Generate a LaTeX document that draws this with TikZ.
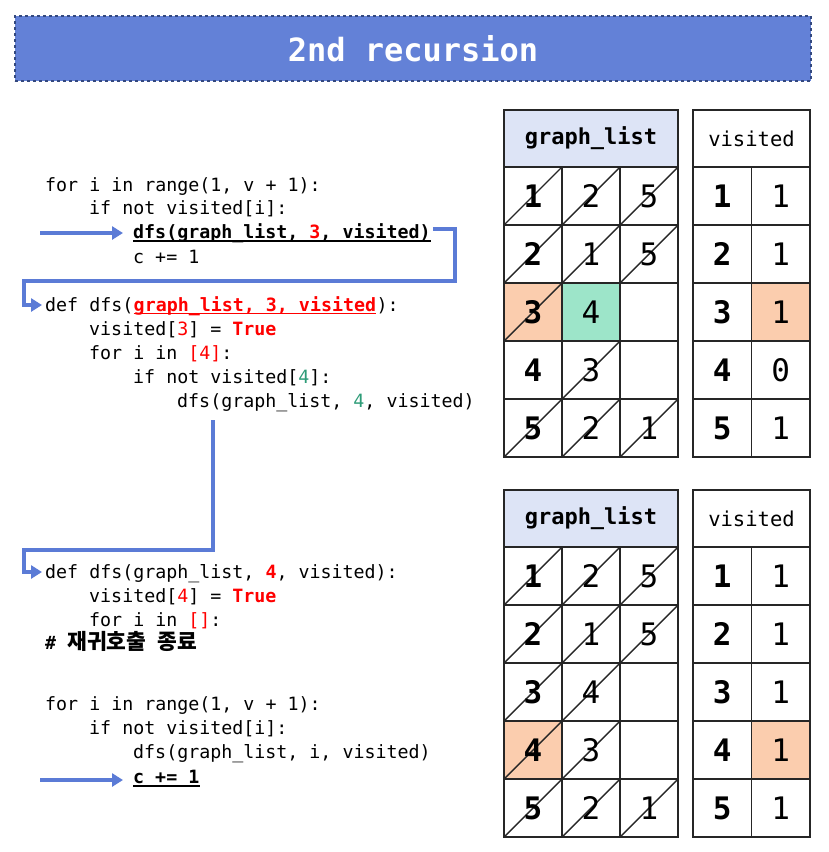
\documentclass[tikz,border=0pt]{standalone}
\usepackage{fontspec}
\usetikzlibrary{arrows.meta,calc}
\newfontfamily\mono{DejaVu Sans Mono}
\newfontfamily\kr{Noto Sans CJK KR}
\definecolor{titleblue}{HTML}{6381D7}
\definecolor{titleborder}{HTML}{34497F}
\definecolor{arrowblue}{HTML}{5B7BD6}
\definecolor{hdr}{HTML}{DDE4F6}
\definecolor{org}{HTML}{FBCDAE}
\definecolor{grn}{HTML}{9DE5C9}
\definecolor{codegreen}{HTML}{2E9C78}
\definecolor{codered}{HTML}{FF0000}
\begin{document}
\begin{tikzpicture}[x=1pt,y=-1pt,
  code/.style={anchor=base west, inner sep=0, font=\mono\fontsize{18.3}{22}\selectfont},
  arrowline/.style={draw=arrowblue, line width=3.3pt, -{Triangle[length=11pt,width=13pt]}},
  uline/.style={line width=1.6pt},
  cell/.style={draw=black!85, line width=1.4pt, minimum width=58pt, minimum height=58pt, inner sep=0, font=\mono\fontsize{31}{31}\selectfont},
  vcell/.style={cell, minimum width=58.5pt},
  bcell/.style={cell, font=\mono\bfseries\fontsize{31}{31}\selectfont},
  bvcell/.style={vcell, font=\mono\bfseries\fontsize{31}{31}\selectfont},
  sl/.style={path picture={\draw[line width=1.4pt] (path picture bounding box.south west) -- (path picture bounding box.north east);}},
  ghead/.style={draw=black!85, line width=1.4pt, fill=hdr, minimum width=174pt, minimum height=57pt, inner sep=0, font=\mono\bfseries\fontsize{22}{22}\selectfont},
  vhead/.style={draw=black!85, line width=1.4pt, fill=white, minimum width=117pt, minimum height=57pt, inner sep=0, font=\mono\fontsize{20.5}{20}\selectfont}
]
\useasboundingbox (0,0) rectangle (829,852);

% title
\node[draw=titleborder, dashed, line width=1.2pt, fill=titleblue, minimum width=796pt, minimum height=65pt, inner sep=0,
      text=white, font=\mono\bfseries\fontsize{32}{32}\selectfont] (title) at (413,48.5) {2nd recursion};

% ---------- top code ----------
\node[code] (c1) at (45,191) {for i in range(1, v + 1):};
\node[code] (c2) at (89,214) {if not visited[i]:};
\node[code, font=\mono\bfseries\fontsize{18.3}{22}\selectfont] (c3) at (133,238) {dfs(graph\_list, {\color{codered}3}, visited)};
\node[code] (c4) at (133,263) {c += 1};
\node[code] (c5a) at (45,311) {def dfs(};
\node[code, anchor=base west, text=codered, font=\mono\bfseries\fontsize{18.3}{22}\selectfont] (c5b) at (c5a.base east) {graph\_list, 3, visited};
\node[code, anchor=base west] (c5c) at (c5b.base east) {):};
\node[code] (c6) at (89,335) {visited[{\color{codered}3}] = {\color{codered}\bfseries True}};
\node[code] (c7) at (89,359) {for i in {\color{codered}[4]}:};
\node[code] (c8) at (133,383) {if not visited[{\color{codegreen}4}]:};
\node[code] (c9) at (177,407) {dfs(graph\_list, {\color{codegreen}4}, visited)};

\draw[uline] ($(c3.base west)+(0,3)$) -- ($(c3.base east)+(0,3)$);
\draw[uline, draw=codered] ($(c5b.base west)+(0,2.5)$) -- ($(c5b.base east)+(0,2.5)$);

% ---------- bottom code ----------
\node[code] (e1) at (45,578) {def dfs(graph\_list, {\color{codered}\bfseries 4}, visited):};
\node[code] (e2) at (89,602) {visited[{\color{codered}4}] = {\color{codered}\bfseries True}};
\node[code] (e3) at (89,626) {for i in {\color{codered}[]}:};
\node[code] (e4) at (45,649) {{\bfseries\# }{\kr\bfseries\fontsize{21.5}{22}\selectfont 재귀호출}{\bfseries\ }{\kr\bfseries\fontsize{21.5}{22}\selectfont 종료}};
\node[code] (e5) at (45,710) {for i in range(1, v + 1):};
\node[code] (e6) at (89,734) {if not visited[i]:};
\node[code] (e7) at (133,758) {dfs(graph\_list, i, visited)};
\node[code, font=\mono\bfseries\fontsize{18.3}{22}\selectfont] (e8) at (133,783) {c += 1};
\draw[uline] ($(e8.base west)+(0,3)$) -- ($(e8.base east)+(0,3)$);

% ---------- arrows ----------
\coordinate (a1s) at (40,233);
\draw[arrowline] (a1s) -- ($(c3.base west)+(-10,-5)$);
\coordinate (a2s) at ($(c3.base east)+(2,-9)$);
\draw[arrowline] (a2s) -| (455,281) -| (24,305) -- ($(c5a.base west)+(-3,-6)$);
\coordinate (a3s) at ($(c9.base west)+(36,13)$);
\draw[arrowline] (a3s) |- (24,550) |- ($(e1.base west)+(-3,-6)$);
\coordinate (a4s) at (40,780);
\draw[arrowline] (a4s) -- ($(e8.base west)+(-10,-3)$);

% ---------- top tables ----------
\node[ghead] (g1h) at (591,138.5) {graph\_list};
\node[vhead] (v1h) at (751.5,138.5) {visited};
\node[bcell,sl] (g1r1c1) at (533,196) {1};
\node[cell,sl] (g1r1c2) at (591,196) {2};
\node[cell,sl] (g1r1c3) at (649,196) {5};
\node[bcell,sl] (g1r2c1) at (533,254) {2};
\node[cell,sl] (g1r2c2) at (591,254) {1};
\node[cell,sl] (g1r2c3) at (649,254) {5};
\node[bcell,sl,fill=org] (g1r3c1) at (533,312) {3};
\node[cell,fill=grn] (g1r3c2) at (591,312) {4};
\node[cell] (g1r3c3) at (649,312) {};
\node[bcell] (g1r4c1) at (533,370) {4};
\node[cell,sl] (g1r4c2) at (591,370) {3};
\node[cell] (g1r4c3) at (649,370) {};
\node[bcell,sl] (g1r5c1) at (533,428) {5};
\node[cell,sl] (g1r5c2) at (591,428) {2};
\node[cell,sl] (g1r5c3) at (649,428) {1};
\node[bvcell] (v1r1a) at (722.25,196) {1};
\node[vcell] (v1r1b) at (780.75,196) {1};
\node[bvcell] (v1r2a) at (722.25,254) {2};
\node[vcell] (v1r2b) at (780.75,254) {1};
\node[bvcell] (v1r3a) at (722.25,312) {3};
\node[vcell,fill=org] (v1r3b) at (780.75,312) {1};
\node[bvcell] (v1r4a) at (722.25,370) {4};
\node[vcell] (v1r4b) at (780.75,370) {0};
\node[bvcell] (v1r5a) at (722.25,428) {5};
\node[vcell] (v1r5b) at (780.75,428) {1};

% ---------- bottom tables ----------
\node[ghead] (g2h) at (591,518.5) {graph\_list};
\node[vhead] (v2h) at (751.5,518.5) {visited};
\node[bcell,sl] (g2r1c1) at (533,576) {1};
\node[cell,sl] (g2r1c2) at (591,576) {2};
\node[cell,sl] (g2r1c3) at (649,576) {5};
\node[bcell,sl] (g2r2c1) at (533,634) {2};
\node[cell,sl] (g2r2c2) at (591,634) {1};
\node[cell,sl] (g2r2c3) at (649,634) {5};
\node[bcell,sl] (g2r3c1) at (533,692) {3};
\node[cell,sl] (g2r3c2) at (591,692) {4};
\node[cell] (g2r3c3) at (649,692) {};
\node[bcell,sl,fill=org] (g2r4c1) at (533,750) {4};
\node[cell,sl] (g2r4c2) at (591,750) {3};
\node[cell] (g2r4c3) at (649,750) {};
\node[bcell,sl] (g2r5c1) at (533,808) {5};
\node[cell,sl] (g2r5c2) at (591,808) {2};
\node[cell,sl] (g2r5c3) at (649,808) {1};
\node[bvcell] (v2r1a) at (722.25,576) {1};
\node[vcell] (v2r1b) at (780.75,576) {1};
\node[bvcell] (v2r2a) at (722.25,634) {2};
\node[vcell] (v2r2b) at (780.75,634) {1};
\node[bvcell] (v2r3a) at (722.25,692) {3};
\node[vcell] (v2r3b) at (780.75,692) {1};
\node[bvcell] (v2r4a) at (722.25,750) {4};
\node[vcell,fill=org] (v2r4b) at (780.75,750) {1};
\node[bvcell] (v2r5a) at (722.25,808) {5};
\node[vcell] (v2r5b) at (780.75,808) {1};
\end{tikzpicture}
\end{document}
